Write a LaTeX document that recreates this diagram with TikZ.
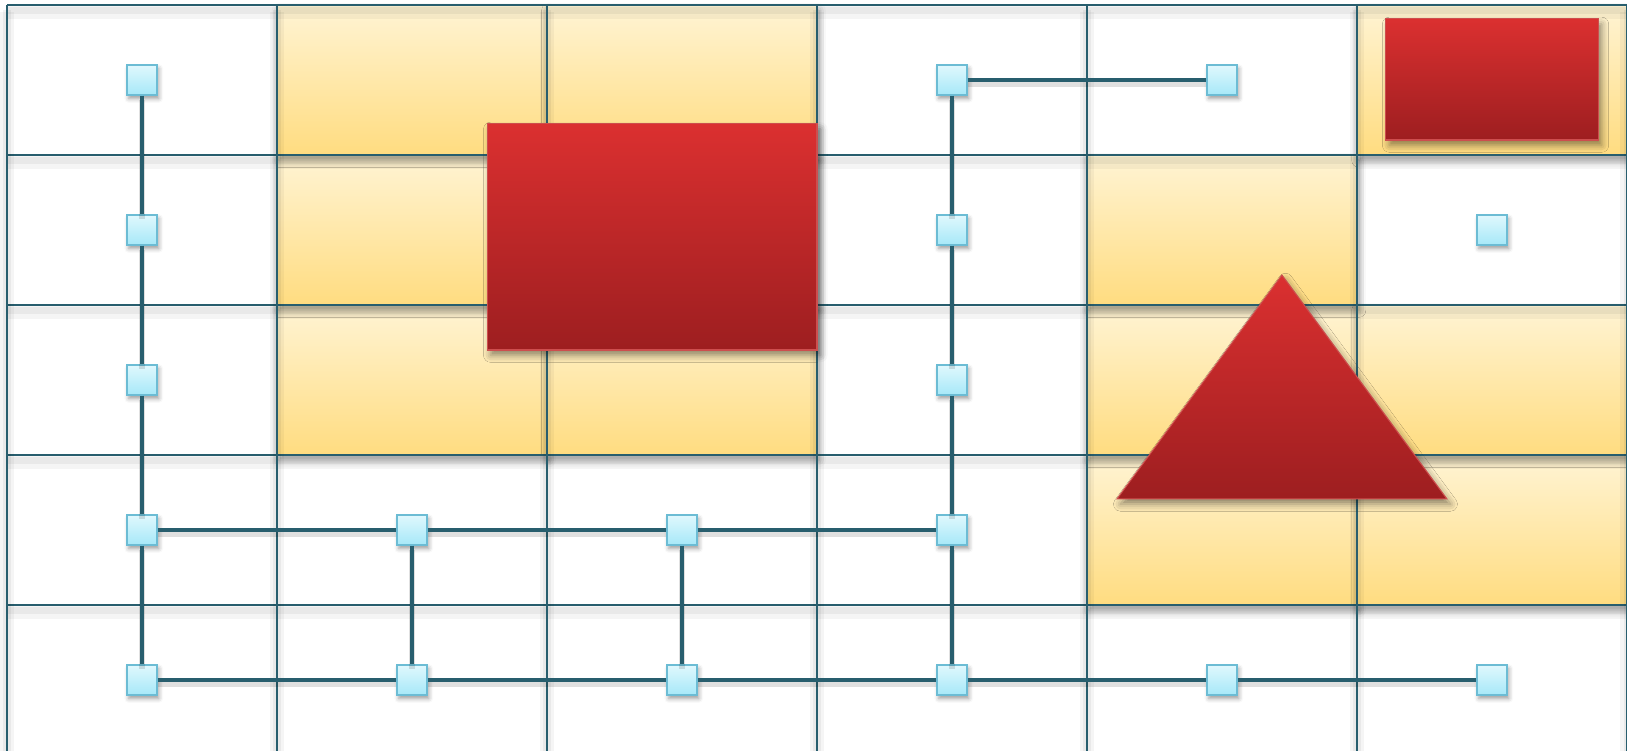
\documentclass[tikz,border=0pt]{standalone}
\usepackage{tikz}
\usetikzlibrary{shadows.blur}
\definecolor{gridteal}{RGB}{40,94,110}
\definecolor{cellpale}{RGB}{255,244,212}
\definecolor{cellgold}{RGB}{255,220,128}
\definecolor{blocktop}{RGB}{219,48,48}
\definecolor{blockbot}{RGB}{157,30,32}
\definecolor{blockedge}{RGB}{205,78,78}
\definecolor{portpale}{RGB}{224,248,253}
\definecolor{portdeep}{RGB}{166,232,248}
\definecolor{portedge}{RGB}{108,188,212}

\begin{document}
\begin{tikzpicture}[x=5.4cm, y=-3cm,
  goldcell/.style={top color=cellpale, bottom color=cellgold,
    blur shadow={shadow xshift=1pt, shadow yshift=-3pt, shadow blur radius=4pt, shadow opacity=35}},
  gridline/.style={gridteal, line width=1.1pt,
    preaction={draw=black, opacity=0.04, line width=8pt, transform canvas={yshift=-4pt}},
    preaction={draw=black, opacity=0.05, line width=4pt, transform canvas={yshift=-3pt}}},
  block/.style={top color=blocktop, bottom color=blockbot, draw=blockedge, line width=0.6pt,
    blur shadow={shadow xshift=2pt, shadow yshift=-3pt, shadow blur radius=4pt, shadow opacity=45}},
  port/.style={rectangle, minimum size=0.6cm, inner sep=0pt, draw=portedge, line width=0.7pt,
    top color=portpale, bottom color=portdeep,
    blur shadow={shadow xshift=1pt, shadow yshift=-2pt, shadow blur radius=2.5pt}},
  link/.style={gridteal, line width=2.4pt,
    preaction={draw=black, opacity=0.12, line width=3pt, transform canvas={yshift=-2.5pt}}}]
  \useasboundingbox (-0.0259,-0.0333) rectangle (6,4.9733);

  % Cells (bottom row first, so the shadows fall on the cells below)
  \foreach \c/\r in {4/3,5/3, 1/2,2/2,4/2,5/2, 1/1,2/1,4/1, 1/0,2/0,5/0}
    \fill[goldcell] (\c,\r) rectangle ++(1,1);

  % Grid
  \foreach \r in {0,...,5}
    \draw[gridline] (0,\r) -- (6,\r);
  \foreach \c in {0,...,6}
    \draw[gridline] (\c,0) -- (\c,5);

  % Blocks
  \draw[block] (1.778,0.793) rectangle (3,2.3);
  \draw[block] (5.107,0.093) rectangle (5.893,0.9);
  \draw[block] (4.722,1.8) -- (5.333,3.293) -- (4.111,3.293) -- cycle;

  % Ports
  \foreach \c/\r in {0/0,0/1,0/2,0/3,0/4, 1/3,1/4, 2/3,2/4,
                     3/0,3/1,3/2,3/3,3/4, 4/0,4/4, 5/1,5/4}
    \node[port] (n\c\r) at (\c+0.5,\r+0.5) {};

  % Links
  \draw[link] (n00) -- (n01) -- (n02) -- (n03) -- (n04);
  \draw[link] (n30) -- (n31) -- (n32) -- (n33) -- (n34);
  \draw[link] (n30) -- (n40);
  \draw[link] (n03) -- (n13) -- (n23) -- (n33);
  \draw[link] (n04) -- (n14) -- (n24) -- (n34) -- (n44) -- (n54);
  \draw[link] (n13) -- (n14);
  \draw[link] (n23) -- (n24);
\end{tikzpicture}
\end{document}
